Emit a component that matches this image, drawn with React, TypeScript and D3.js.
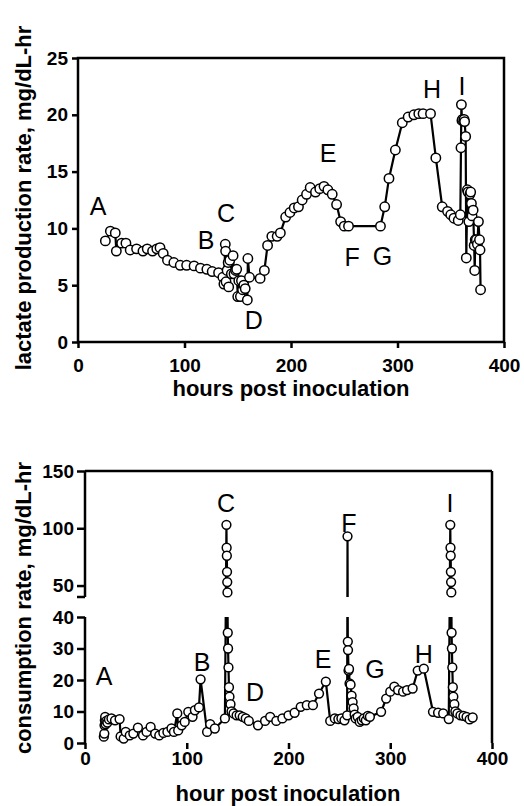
import React, { useEffect, useRef } from 'react';
import * as d3 from 'd3';

// lactate production (top panel)
const lactHours = [25.7, 30.4, 35, 36, 41, 45, 49, 55, 61, 65, 70, 74, 77, 80, 84, 90, 96, 102, 109, 115, 121, 126, 132,
  136, 137, 138.3, 138.6, 139, 140, 141, 141.5, 142.5, 144, 145.6, 146.5, 148, 149, 150, 151, 152.5, 153.5, 154.5, 155.7,
  157, 159, 159.5, 161, 171, 175, 178, 182, 187, 190, 195, 199, 203, 207, 210.5, 214.6, 218, 223, 227, 231, 234.6, 238.7,
  242.8, 246.6, 250, 254, 284, 288, 292, 298, 304.5, 310, 315.4, 320, 324, 331, 336, 342, 347, 350, 353, 357,
  359, 359.6, 360, 360.5, 361, 362.5, 363, 364, 364.6, 365.6, 366.2, 367, 368, 368.7, 369.4, 370, 371, 372, 372.5,
  373, 374, 375, 376, 377, 377.5, 378];
const lactRate = [8.9, 9.76, 9.6, 8.0, 8.7, 8.7, 8.1, 8.2, 8.0, 8.2, 8.0, 8.2, 8.3, 7.8, 7.2, 7.0, 6.75, 6.75, 6.7, 6.5, 6.4, 6.2, 6.1,
  5.7, 5.1, 8.6, 8.0, 5.3, 6.3, 7.0, 4.85, 7.2, 6.0, 7.6, 6.0, 6.3, 6.4, 4.0, 5.4, 4.0, 5.4, 4.6, 5.0,
  4.7, 3.7, 7.35, 5.7, 5.6, 6.3, 8.5, 9.3, 9.3, 9.6, 11.0, 11.4, 11.8, 11.9, 12.5, 13.0, 13.6, 13.2, 13.5, 13.7, 13.4, 13.0,
  12.1, 10.6, 10.2, 10.2, 10.2, 11.9, 14.4, 16.9, 19.3, 19.8, 20.0, 20.1, 20.1, 20.1, 16.2, 11.9, 11.5, 11.2, 10.9, 10.7,
  11.2, 17.1, 20.9, 19.5, 19.6, 19.6, 19.4, 18.1, 7.4, 13.4, 13.2, 10.6, 13.0, 13.2, 12.2, 11.1, 11.6, 8.5, 6.3,
  9.0, 9.0, 8.6, 10.6, 9.0, 8.1, 4.6];

// consumption (bottom panel)
const consHours = [18.5, 19, 19.2, 19.5, 19.8, 20.2, 21, 22, 23.5, 26, 29.5, 34, 35, 38, 40, 44, 47.5, 52, 57, 60.5, 64.5, 69,
  73, 77, 81, 85, 87.4, 90.7, 91.6, 95, 98, 101.5, 105.7, 108, 112, 113.6, 120, 123, 127.6, 137.5,
  139, 139.2, 139.4, 139.6, 139.8, 140, 140.3, 140.6, 141, 141.5, 142, 143, 144, 146, 149, 152, 155, 158, 161,
  170, 177, 182, 188, 194, 200, 206, 212, 218, 224, 230, 236.7, 241, 245.5, 249, 252, 255, 257.6,
  258, 258.3, 258.5, 259, 259.5, 260, 261, 262, 263, 264, 265, 266, 268, 270, 272, 274, 276, 278, 280,
  291, 296, 300, 304, 307.7, 312.6, 316.5, 322, 327, 333, 342, 347, 352, 357.5,
  359, 359.2, 359.4, 359.6, 359.8, 360, 360.3, 360.6, 361, 361.5, 362, 363, 364, 366, 369, 372, 375, 378, 381];
const consRate = [2.0, 3.0, 5.6, 7.2, 8.3, 6.0, 7.0, 6.5, 7.5, 7.8, 7.2, 7.6, 2.1, 1.4, 3.5, 2.4, 3.0, 4.9, 2.4, 3.5, 5.1, 3.0,
  2.4, 3.2, 3.5, 4.6, 3.5, 9.4, 4.0, 5.6, 6.7, 9.9, 8.3, 10.4, 11.3, 20.2, 3.5, 6.0, 4.6, 7.8,
  103, 83, 76, 62, 53, 44, 35, 30, 24, 17.7, 14.7, 12.3, 10, 9.4, 8.8, 8.8, 8.3, 7.8, 7.0,
  5.6, 7.0, 8.3, 7.0, 7.8, 8.8, 9.6, 11.5, 12.0, 12.0, 15.7, 19.5, 7.0, 7.8, 7.6, 7.8, 7.2, 8.8,
  93, 32.2, 29.5, 23, 23.5, 18.9, 18.5, 15, 13, 11, 9, 7.8, 8.3, 6.7, 7.2, 7.8, 7.2, 8.6, 8.3,
  9.9, 14.1, 16.3, 17.9, 16.8, 16.3, 16.8, 17.3, 23.0, 23.6, 9.9, 9.6, 9.4, 7.6,
  103, 83, 76, 62, 53, 44, 35, 30, 24, 17.7, 14.7, 12.3, 10, 9.4, 8.8, 8.6, 8.3, 7.5, 8.1];

const letters = ['A', 'B', 'C', 'D', 'E', 'F', 'G', 'H', 'I'];
const topLetterHours = [18.8, 120.2, 139, 165, 234.8, 257.3, 286, 332.4, 360.6];
const topLetterVals = [12.0, 9.0, 11.35, 1.94, 16.6, 7.5, 7.6, 22.3, 22.5];
const botLetterHours = [18.7, 115, 138.6, 167, 234, 259.4, 285, 333, 358.7];
const botLetterVals = [21.3, 25.7, 122, 16.2, 26.7, 104.7, 23.5, 28.3, 122];

const xTicks = [0, 100, 200, 300, 400];
const topYTicks = [0, 5, 10, 15, 20, 25];
const lowYTicks = [0, 10, 20, 30, 40];
const upYTicks = [50, 100, 150];

const FONT = 'Liberation Sans, Arial, sans-serif';

const App = () => {
  const svgRef = useRef(null);

  useEffect(() => {
    const svg = d3.select(svgRef.current);
    svg.selectAll('*').remove();

    const styleAxis = (g, size) => {
      g.select('.domain').remove();
      g.selectAll('line').attr('stroke', '#000').attr('stroke-width', 2.5);
      g.selectAll('text').attr('font-family', FONT).attr('font-weight', 'bold').attr('font-size', size).attr('fill', '#000');
    };

    // ---------- top panel ----------
    const x1 = d3.scaleLinear().domain([0, 400]).range([78, 504]);
    const y1 = d3.scaleLinear().domain([0, 25]).range([342, 58]);

    const top = svg.append('g');
    top.append('g').attr('transform', 'translate(0,342)')
      .call(d3.axisBottom(x1).tickValues(xTicks).tickSize(6).tickSizeOuter(0).tickPadding(11))
      .call(g => styleAxis(g, 19));
    top.append('g').attr('transform', 'translate(78,0)')
      .call(d3.axisLeft(y1).tickValues(topYTicks).tickSize(6).tickSizeOuter(0).tickPadding(4))
      .call(g => styleAxis(g, 19));
    top.append('rect').attr('x', 78).attr('y', 58).attr('width', 426).attr('height', 284)
      .attr('fill', 'none').attr('stroke', '#000').attr('stroke-width', 2.5);

    const lactPts = lactHours.map((h, i) => [h, lactRate[i]]);
    top.append('path').datum(lactPts)
      .attr('d', d3.line().x(d => x1(d[0])).y(d => y1(d[1])))
      .attr('fill', 'none').attr('stroke', '#000').attr('stroke-width', 2.2);
    top.selectAll('circle').data(lactPts).enter().append('circle')
      .attr('cx', d => x1(d[0])).attr('cy', d => y1(d[1])).attr('r', 4.7)
      .attr('fill', '#fff').attr('stroke', '#000').attr('stroke-width', 1.5);

    top.selectAll('.lbl').data(letters).enter().append('text')
      .attr('x', (d, i) => x1(topLetterHours[i])).attr('y', (d, i) => y1(topLetterVals[i]))
      .attr('text-anchor', 'middle').attr('dominant-baseline', 'central')
      .attr('font-family', FONT).attr('font-size', 25).text(d => d);

    top.append('text').attr('x', 291).attr('y', 396).attr('text-anchor', 'middle')
      .attr('font-family', FONT).attr('font-weight', 'bold').attr('font-size', 22)
      .text('hours post inoculation');
    top.append('text').attr('transform', 'translate(31,198) rotate(-90)').attr('text-anchor', 'middle')
      .attr('font-family', FONT).attr('font-weight', 'bold').attr('font-size', 22)
      .text('lactate production rate, mg/dL-hr');

    // ---------- bottom panel (broken y axis) ----------
    const x2 = d3.scaleLinear().domain([0, 400]).range([85, 492]);
    const yLow = d3.scaleLinear().domain([0, 40]).range([743, 617]);
    const yUp = d3.scaleLinear().domain([40, 150]).range([597, 471]);
    const y2 = v => (v <= 40 ? yLow(v) : yUp(v));

    const bot = svg.append('g');
    bot.append('g').attr('transform', 'translate(0,743)')
      .call(d3.axisBottom(x2).tickValues(xTicks).tickSize(6).tickSizeOuter(0).tickPadding(3))
      .call(g => styleAxis(g, 19));
    bot.append('g').attr('transform', 'translate(85,0)')
      .call(d3.axisLeft(yLow).tickValues(lowYTicks).tickSize(8).tickSizeOuter(0).tickPadding(3))
      .call(g => styleAxis(g, 19));
    bot.append('g').attr('transform', 'translate(85,0)')
      .call(d3.axisLeft(yUp).tickValues(upYTicks).tickSize(8).tickSizeOuter(0).tickPadding(3))
      .call(g => styleAxis(g, 19));
    // axis segments + break caps
    const seg = (xa, ya, xb, yb) => {
      bot.append('line').attr('x1', xa).attr('y1', ya).attr('x2', xb).attr('y2', yb)
        .attr('stroke', '#000').attr('stroke-width', 2.5);
    };
    seg(85, 471, 85, 597);
    seg(77, 597, 85, 597);
    seg(85, 617, 85, 743);
    seg(85, 471, 492, 471);
    seg(492, 471, 492, 743);

    const defs = svg.append('defs');
    const cp = defs.append('clipPath').attr('id', 'gapclip');
    cp.append('rect').attr('x', 0).attr('y', 440).attr('width', 524).attr('height', 157);
    cp.append('rect').attr('x', 0).attr('y', 617).attr('width', 524).attr('height', 140);

    const consPts = consHours.map((h, i) => [h, consRate[i]]);
    bot.append('path').datum(consPts)
      .attr('d', d3.line().x(d => x2(d[0])).y(d => y2(d[1])))
      .attr('clip-path', 'url(#gapclip)')
      .attr('fill', 'none').attr('stroke', '#000').attr('stroke-width', 2.2);
    bot.selectAll('circle').data(consPts).enter().append('circle')
      .attr('cx', d => x2(d[0])).attr('cy', d => y2(d[1])).attr('r', 4.4)
      .attr('fill', '#fff').attr('stroke', '#000').attr('stroke-width', 1.5);

    bot.selectAll('.lbl').data(letters).enter().append('text')
      .attr('x', (d, i) => x2(botLetterHours[i])).attr('y', (d, i) => y2(botLetterVals[i]))
      .attr('text-anchor', 'middle').attr('dominant-baseline', 'central')
      .attr('font-family', FONT).attr('font-size', 25).text(d => d);

    bot.append('text').attr('x', 288).attr('y', 801).attr('text-anchor', 'middle')
      .attr('font-family', FONT).attr('font-weight', 'bold').attr('font-size', 22)
      .text('hour post inoculation');
    bot.append('text').attr('transform', 'translate(31,608) rotate(-90)').attr('text-anchor', 'middle')
      .attr('font-family', FONT).attr('font-weight', 'bold').attr('font-size', 22)
      .text('consumption rate, mg/dL-hr');
  }, []);

  return (
    <svg ref={svgRef} width={524} height={806}
      style={{ position: 'absolute', left: 0, top: 0, background: '#fff' }} />
  );
};

export default App;
